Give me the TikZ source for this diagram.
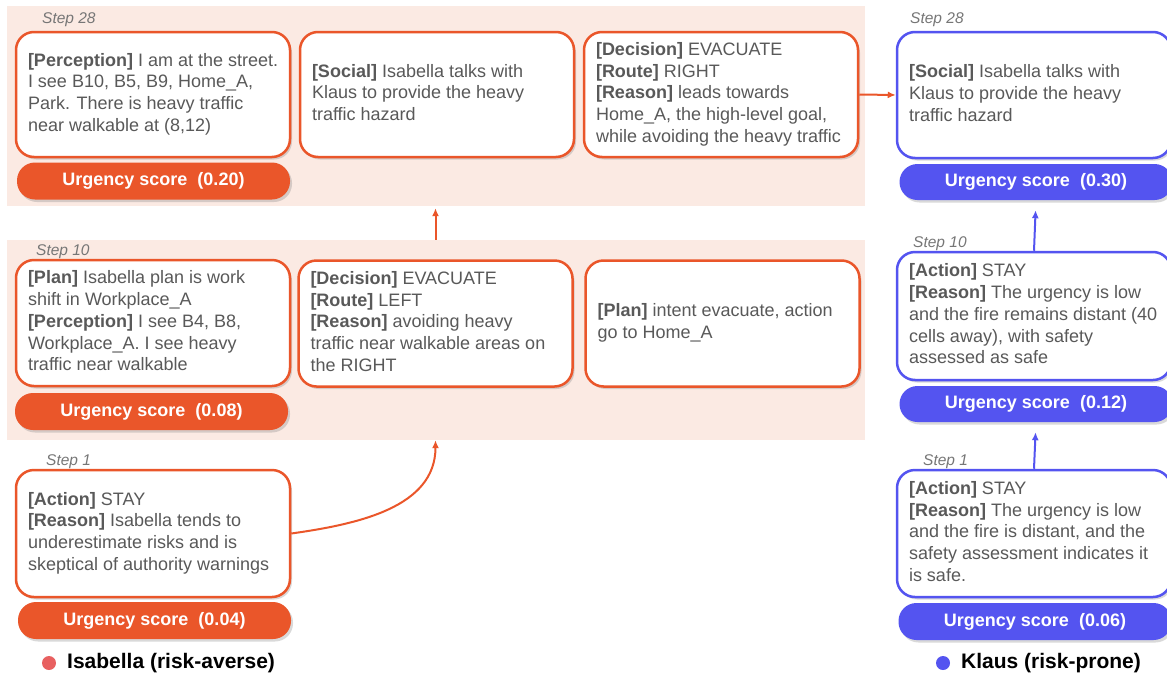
\documentclass[tikz,border=0pt]{standalone}
\usepackage{fontspec}
\setmainfont{Liberation Sans}
\usetikzlibrary{arrows.meta,shadows}

\definecolor{ccorange}{RGB}{234,86,42}
\definecolor{ccblue}{RGB}{84,84,240}
\definecolor{ccpeach}{RGB}{251,234,227}
\definecolor{cctext}{RGB}{89,89,89}
\definecolor{ccstep}{RGB}{118,118,118}
\definecolor{ccdot}{RGB}{232,96,96}

\newcommand{\cardlines}[1]{\makebox[250pt][l]{\begin{tabular}{@{}l@{}}#1\end{tabular}}}

\begin{document}
\begin{tikzpicture}[x=1pt, y=1pt,
  every node/.style={font=\fontsize{18}{21.7}\selectfont, text=cctext},
  panel/.style={fill=ccpeach, minimum width=858pt, minimum height=200pt, inner sep=0pt},
  card/.style={fill=white, line width=2.5pt, rounded corners=18pt, minimum width=274pt,
    inner xsep=12pt,
    drop shadow={shadow xshift=2pt, shadow yshift=-2.5pt, opacity=0.3}},
  isacard/.style={card, draw=ccorange},
  klauscard/.style={card, draw=ccblue},
  pill/.style={rounded corners=18pt, minimum width=273pt, minimum height=37pt, text=white,
    font=\fontsize{18}{21.7}\selectfont\bfseries,
    drop shadow={shadow xshift=2pt, shadow yshift=-2.5pt, opacity=0.3}},
  isapill/.style={pill, fill=ccorange},
  klauspill/.style={pill, fill=ccblue},
  steplabel/.style={anchor=west, inner xsep=0pt, text=ccstep, font=\fontsize{15.5}{18}\selectfont\itshape},
  legend/.style={anchor=west, inner xsep=0pt, text=black, font=\fontsize{21}{24}\selectfont\bfseries},
  isaarrow/.style={ccorange, line width=2pt, -{Latex[length=8pt,width=7pt]}},
  klausarrow/.style={ccblue, line width=2pt, -{Latex[length=8pt,width=7pt]}}
]

  \useasboundingbox (0,0) rectangle (1167,-675);
  \clip (0,0) rectangle (1167,-675);

  % Panels
  \draw (436,-106) node[panel] (toppanel) {};
  \draw (436,-340) node[panel] (midpanel) {};

  % Isabella, step 28
  \draw (42,-20) node[steplabel] (isastep28) {Step 28};
  \draw (153,-94.5) node[isacard, minimum height=125pt] (isaperc28) {\cardlines{\textbf{[Perception]} I am at the street.\\I see B10, B5, B9, Home\_A,\\Park. There is heavy traffic\\near walkable at (8,12)}};
  \draw (437,-94.5) node[isacard, minimum height=125pt] (isasocial28) {\cardlines{\textbf{[Social]} Isabella talks with\\Klaus to provide the heavy\\traffic hazard}};
  \draw (721,-94.5) node[isacard, minimum height=125pt] (isadec28) {\cardlines{\textbf{[Decision]} EVACUATE\\\textbf{[Route]} RIGHT\\\textbf{[Reason]} leads towards\\Home\_A, the high-level goal,\\while avoiding the heavy traffic}};
  \draw (153.5,-181) node[isapill] (isascore28) {Urgency score~~(0.20)};

  % Isabella, step 10
  \draw (36,-252) node[steplabel] (isastep10) {Step 10};
  \draw (153,-323) node[isacard, minimum height=126pt] (isaplan10) {\cardlines{\textbf{[Plan]} Isabella plan is work\\shift in Workplace\_A\\\textbf{[Perception]} I see B4, B8,\\Workplace\_A. I see heavy\\traffic near walkable}};
  \draw (435.5,-323.5) node[isacard, minimum height=126pt] (isadec10) {\cardlines{\textbf{[Decision]} EVACUATE\\\textbf{[Route]} LEFT\\\textbf{[Reason]} avoiding heavy\\traffic near walkable areas on\\the RIGHT}};
  \draw (722.5,-323.5) node[isacard, minimum height=126pt] (isaintent10) {\cardlines{\textbf{[Plan]} intent evacuate, action\\go to Home\_A}};
  \draw (151.5,-411.5) node[isapill] (isascore10) {Urgency score~~(0.08)};

  % Isabella, step 1
  \draw (46,-462) node[steplabel] (isastep1) {Step 1};
  \draw (153,-533.5) node[isacard, minimum height=127pt] (isaact1) {\cardlines{\textbf{[Action]} STAY\\\textbf{[Reason]} Isabella tends to\\underestimate risks and is\\skeptical of authority warnings}};
  \draw (154.5,-620.5) node[isapill] (isascore1) {Urgency score~~(0.04)};

  % Klaus
  \draw (910,-20) node[steplabel] (klstep28) {Step 28};
  \draw (1034,-95) node[klauscard, minimum height=126pt] (klsocial28) {\cardlines{\textbf{[Social]} Isabella talks with\\Klaus to provide the heavy\\traffic hazard}};
  \draw (1036,-182) node[klauspill, minimum height=36pt] (klscore28) {Urgency score~~(0.30)};
  \draw (913,-244) node[steplabel] (klstep10) {Step 10};
  \draw (1034,-316) node[klauscard, minimum height=128pt] (klact10) {\cardlines{\textbf{[Action]} STAY\\\textbf{[Reason]} The urgency is low\\and the fire remains distant (40\\cells away), with safety\\assessed as safe}};
  \draw (1036,-404) node[klauspill, minimum height=36pt] (klscore10) {Urgency score~~(0.12)};
  \draw (923,-462) node[steplabel] (klstep1) {Step 1};
  \draw (1034,-533.5) node[klauscard, minimum height=127pt] (klact1) {\cardlines{\textbf{[Action]} STAY\\\textbf{[Reason]} The urgency is low\\and the fire is distant, and the\\safety assessment indicates it\\is safe.}};
  \draw (1035,-621.5) node[klauspill] (klscore1) {Urgency score~~(0.06)};

  % Arrows
  \draw[isaarrow] (isaact1.east) to[out=8, in=-90] (isadec10 |- midpanel.south);
  \draw[isaarrow] (isadec10 |- midpanel.north) -- ([yshift=-2pt]isadec10 |- toppanel.south);
  \draw[isaarrow] (isadec28.east) -- (klsocial28.west);
  \draw[klausarrow, shorten >=10pt] (klact10.north) -- (klscore28.south);
  \draw[klausarrow, shorten >=10pt] (klact1.north) -- (klscore10.south);

  % Legend
  \fill[ccdot] (49,-663) circle (7);
  \draw (67,-663) node[legend] (isalegend) {Isabella (risk-averse)};
  \fill[ccblue] (943,-663) circle (7);
  \draw (961,-663) node[legend] (kllegend) {Klaus (risk-prone)};

\end{tikzpicture}
\end{document}
